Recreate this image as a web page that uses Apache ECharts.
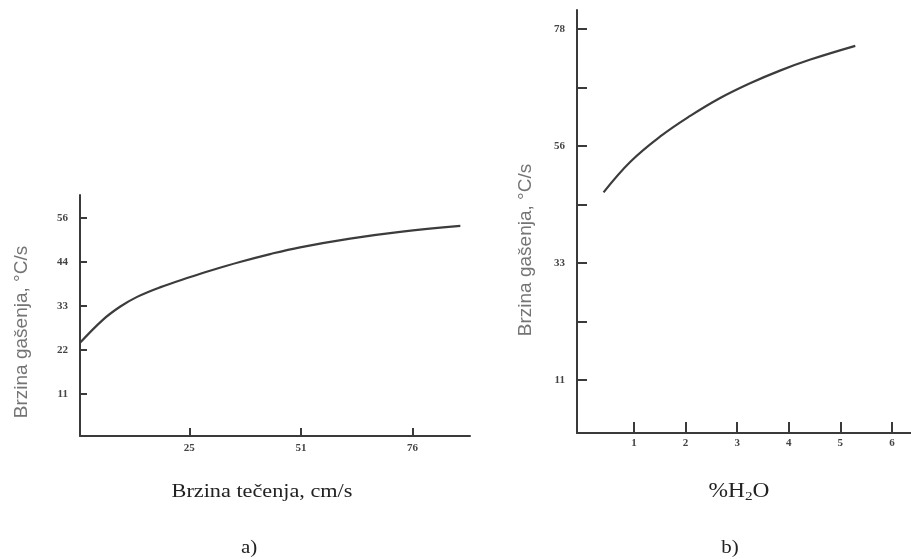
<!DOCTYPE html>
<html>
<head>
<meta charset="utf-8">
<script src="https://cdn.jsdelivr.net/npm/echarts@6/dist/echarts.min.js"></script>
<style>
html,body{margin:0;padding:0;background:#fff;}
#chart{width:911px;height:559px;}
</style>
</head>
<body>
<div id="chart"></div>
<script>
// Panel a) quench rate vs flow speed
const flowSpeed = [0.5, 5.7, 9.6, 13.5, 18.7, 25.6, 30.1, 36.9, 43.8, 50.6, 62.0, 73.4, 87.1];
const quenchRateA = [24.0, 29.8, 33.1, 35.6, 38.0, 40.6, 42.2, 44.4, 46.4, 48.1, 50.3, 52.0, 53.5];
// Panel b) quench rate vs % water
const waterPct = [0.41, 0.93, 1.51, 2.09, 2.67, 3.25, 3.83, 4.42, 5.29];
const quenchRateB = [46.7, 52.5, 57.3, 61.2, 64.6, 67.4, 69.8, 71.9, 74.5];

// Tick positions and labels
const aXTickVals = [25.4, 50.8, 76.2];
const aXTickLabels = ['25', '51', '76'];
const aYTickVals = [11.1, 22.2, 33.3, 44.4, 55.5];
const aYTickLabels = ['11', '22', '33', '44', '56'];
const bXTickVals = [1, 2, 3, 4, 5, 6];
const bXTickLabels = ['1', '2', '3', '4', '5', '6'];
const bYTickVals = [11.1, 22.2, 33.3, 44.4, 55.5, 66.6, 77.7];
const bYLabelVals = [11.1, 33.3, 55.5, 77.7];
const bYTickLabels = ['11', '33', '56', '78'];

const yName = 'Brzina gašenja, °C/s';
const xNameA = 'Brzina tečenja, cm/s';
const panelA = 'a)';
const panelB = 'b)';

function lookup(vals, labels) {
  return function (v) {
    for (let i = 0; i < vals.length; i++) {
      if (Math.abs(vals[i] - v) < 1e-6) return labels[i];
    }
    return '';
  };
}

const axisColor = '#3a3a3a';
const tickFont = { fontFamily: 'Liberation Serif', fontSize: 11, fontWeight: 'bold', color: '#444' };

const chart = echarts.init(document.getElementById('chart'));
chart.setOption({
  animation: false,
  backgroundColor: '#fff',
  grid: [
    { left: 80, top: 195, width: 390, height: 241 },
    { left: 577, top: 10, width: 334, height: 423 }
  ],
  xAxis: [
    {
      gridIndex: 0, type: 'value', min: 0.5, max: 89.3,
      splitLine: { show: false },
      axisLine: { show: true, onZero: false, lineStyle: { color: axisColor, width: 2 } },
      axisTick: { show: true, inside: true, length: 8, customValues: aXTickVals, lineStyle: { color: axisColor, width: 2 } },
      axisLabel: Object.assign({ customValues: aXTickVals, formatter: lookup(aXTickVals, aXTickLabels), margin: 7 }, tickFont)
    },
    {
      gridIndex: 1, type: 'value', min: -0.105, max: 6.37,
      splitLine: { show: false },
      axisLine: { show: true, onZero: false, lineStyle: { color: axisColor, width: 2 } },
      axisTick: { show: true, inside: true, length: 11, customValues: bXTickVals, lineStyle: { color: axisColor, width: 2 } },
      axisLabel: Object.assign({ customValues: bXTickVals, formatter: lookup(bXTickVals, bXTickLabels), margin: 5 }, tickFont)
    }
  ],
  yAxis: [
    {
      gridIndex: 0, type: 'value', min: 0.5, max: 61.3,
      splitLine: { show: false },
      axisLine: { show: true, onZero: false, lineStyle: { color: axisColor, width: 2 } },
      axisTick: { show: true, inside: true, length: 7, customValues: aYTickVals, lineStyle: { color: axisColor, width: 2 } },
      axisLabel: Object.assign({ customValues: aYTickVals, formatter: lookup(aYTickVals, aYTickLabels), margin: 12 }, tickFont)
    },
    {
      gridIndex: 1, type: 'value', min: 1.04, max: 81.3,
      splitLine: { show: false },
      axisLine: { show: true, onZero: false, lineStyle: { color: axisColor, width: 2 } },
      axisTick: { show: true, inside: true, length: 10, customValues: bYTickVals, lineStyle: { color: axisColor, width: 2 } },
      axisLabel: Object.assign({ customValues: bYLabelVals, formatter: lookup(bYLabelVals, bYTickLabels), margin: 12 }, tickFont)
    }
  ],
  series: [
    {
      type: 'line', xAxisIndex: 0, yAxisIndex: 0, smooth: 0.4, showSymbol: false,
      lineStyle: { color: '#3c3c3c', width: 2.2 },
      data: flowSpeed.map((x, i) => [x, quenchRateA[i]])
    },
    {
      type: 'line', xAxisIndex: 1, yAxisIndex: 1, smooth: 0.4, showSymbol: false,
      lineStyle: { color: '#3c3c3c', width: 2.2 },
      data: waterPct.map((x, i) => [x, quenchRateB[i]])
    }
  ],
  graphic: [
    { type: 'text', x: 22, y: 332, rotation: Math.PI / 2,
      style: { text: yName, fontFamily: 'Liberation Sans', fontSize: 19, fill: '#747474', align: 'center', verticalAlign: 'middle' } },
    { type: 'text', x: 526, y: 250, rotation: Math.PI / 2,
      style: { text: yName, fontFamily: 'Liberation Sans', fontSize: 19, fill: '#747474', align: 'center', verticalAlign: 'middle' } },
    { type: 'text', x: 262, y: 492, scaleX: 1.17,
      style: { text: xNameA, fontFamily: 'Liberation Serif', fontSize: 19, fill: '#222', align: 'center', verticalAlign: 'middle' } },
    { type: 'text', x: 739, y: 492, scaleX: 1.17,
      style: { text: '%H{s|2}O', fontFamily: 'Liberation Serif', fontSize: 20, fill: '#222', align: 'center', verticalAlign: 'middle',
        rich: { s: { fontFamily: 'Liberation Serif', fontSize: 13, fill: '#222', verticalAlign: 'bottom', padding: [9, 0, 0, 0] } } } },
    { type: 'text', x: 249, y: 548, scaleX: 1.1,
      style: { text: panelA, fontFamily: 'Liberation Serif', fontSize: 19, fill: '#222', align: 'center', verticalAlign: 'middle' } },
    { type: 'text', x: 730, y: 548, scaleX: 1.1,
      style: { text: panelB, fontFamily: 'Liberation Serif', fontSize: 19, fill: '#222', align: 'center', verticalAlign: 'middle' } }
  ]
});
</script>
</body>
</html>
